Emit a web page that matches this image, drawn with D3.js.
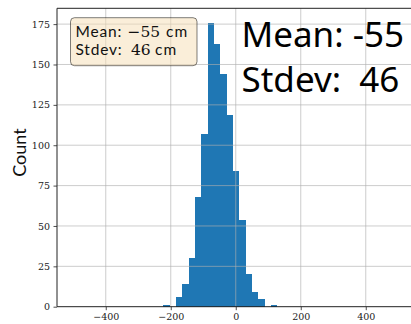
<!DOCTYPE html>
<html>
<head>
<meta charset="utf-8">
<script src="https://cdn.jsdelivr.net/npm/d3@7"></script>
<style>
  html, body { margin: 0; padding: 0; background: #fff; overflow: hidden; }
  svg { display: block; }
</style>
</head>
<body>
<svg id="chart" width="411" height="324"></svg>
<script>
// ---- data ----
const binEdges = [-223, -203.5, -184, -164.5, -145, -125.5, -106, -86.5, -67, -47.5,
                  -28, -8.5, 11, 30.5, 50, 69.5, 89, 108.5, 128];
const counts = [1, 0, 6, 14, 30, 68, 107, 176, 163, 144, 119, 84, 54, 20, 9, 5, 0, 1];
const xTicks = [-400, -200, 0, 200, 400];
const yTicks = [0, 25, 50, 75, 100, 125, 150, 175];
const xDomain = [-550, 550];
const yDomain = [0, 184.8];
const yLabel = "Count";
const boxLines = [
  { name: "Mean:", value: "\u221255", unit: "cm" },
  { name: "Stdev:", value: "46", unit: "cm" }
];
const bigLines = ["Mean: -55", "Stdev:  46"];

// ---- layout ----
const svg = d3.select("#chart");
const mLeft = 57, mRight = 414.5, mTop = 8.3, mBottom = 306.7;

const x = d3.scaleLinear().domain(xDomain).range([mLeft, mRight]);
const y = d3.scaleLinear().domain(yDomain).range([mBottom, mTop]);

const bins = counts.map((c, i) => ({ x0: binEdges[i], x1: binEdges[i + 1], count: c }));

// bars
svg.append("g").attr("shape-rendering", "crispEdges")
  .selectAll("rect").data(bins.filter(d => d.count > 0)).join("rect")
  .attr("x", d => x(d.x0))
  .attr("width", d => x(d.x1) - x(d.x0))
  .attr("y", d => y(d.count))
  .attr("height", d => y(0) - y(d.count))
  .attr("fill", "#1f77b4");

// grid (drawn above the bars)
const grid = svg.append("g").attr("stroke", "#b0b0b0").attr("stroke-opacity", 0.7).attr("stroke-width", 0.9);
grid.selectAll("line.gx").data(xTicks).join("line").attr("class", "gx")
  .attr("x1", d => x(d)).attr("x2", d => x(d)).attr("y1", mTop).attr("y2", mBottom);
grid.selectAll("line.gy").data(yTicks.filter(d => d > 0)).join("line").attr("class", "gy")
  .attr("x1", mLeft).attr("x2", mRight).attr("y1", d => y(d)).attr("y2", d => y(d));

// axes
const fmt = d => (d < 0 ? "\u2212" + Math.abs(d) : String(d));
const xAxis = svg.append("g").attr("transform", `translate(0,${mBottom})`)
  .call(d3.axisBottom(x).tickValues(xTicks).tickFormat(fmt).tickSizeOuter(0).tickSize(3.5).tickPadding(3));
const yAxis = svg.append("g").attr("transform", `translate(${mLeft},0)`)
  .call(d3.axisLeft(y).tickValues(yTicks).tickFormat(fmt).tickSizeOuter(0).tickSize(3.5).tickPadding(3.5));
[xAxis, yAxis].forEach(a => {
  a.select(".domain").remove();
  a.selectAll(".tick line").attr("stroke", "#222").attr("stroke-width", 0.8);
  a.selectAll(".tick text").attr("font-family", "'DejaVu Serif', 'Liberation Serif', serif")
    .attr("font-size", 9.5).attr("fill", "#222");
});

// frame
svg.append("line").attr("x1", mLeft).attr("x2", mLeft).attr("y1", mTop).attr("y2", mBottom)
  .attr("stroke", "#222").attr("stroke-width", 1);
svg.append("line").attr("x1", mLeft).attr("x2", 411).attr("y1", mBottom).attr("y2", mBottom)
  .attr("stroke", "#222").attr("stroke-width", 1);
svg.append("line").attr("x1", mLeft).attr("x2", 411).attr("y1", mTop).attr("y2", mTop)
  .attr("stroke", "#222").attr("stroke-width", 1);

// y label
svg.append("text")
  .attr("transform", `translate(26,${(mTop + mBottom) / 2 - 5}) rotate(-90)`)
  .attr("text-anchor", "middle")
  .attr("font-family", "Lato, 'Open Sans', sans-serif")
  .attr("font-size", 18).attr("fill", "#111")
  .text(yLabel);

// info box
svg.append("rect")
  .attr("x", 70.5).attr("y", 17.7).attr("width", 126.5).attr("height", 48)
  .attr("rx", 4).attr("ry", 4)
  .attr("fill", "#f5deb3").attr("fill-opacity", 0.5)
  .attr("stroke", "#000").attr("stroke-opacity", 0.5).attr("stroke-width", 1);

const boxG = svg.append("g").attr("fill", "#111").attr("font-size", 15.5);
const valueX = [127.5, 131];
const unitX = [166, 155];
boxLines.forEach((l, i) => {
  const by = 36.5 + i * 18.7;
  boxG.append("text").attr("x", 75.5).attr("y", by)
    .style("letter-spacing", "0.8px")
    .attr("font-family", "Lato, 'Open Sans', sans-serif").text(l.name);
  boxG.append("text").attr("x", valueX[i]).attr("y", by)
    .attr("font-family", "'DejaVu Serif', 'Liberation Serif', serif").text(l.value);
  boxG.append("text").attr("x", unitX[i]).attr("y", by)
    .style("letter-spacing", "1.2px")
    .attr("font-family", "Lato, 'Open Sans', sans-serif").text(l.unit);
});

// big text
bigLines.forEach((s, i) => {
  svg.append("text")
    .attr("x", 241.5).attr("y", 46.7 + i * 45)
    .attr("font-family", "'Noto Sans', 'Open Sans', sans-serif")
    .attr("font-size", 35).attr("fill", "#000")
    .style("white-space", "pre")
    .text(s);
});
</script>
</body>
</html>
